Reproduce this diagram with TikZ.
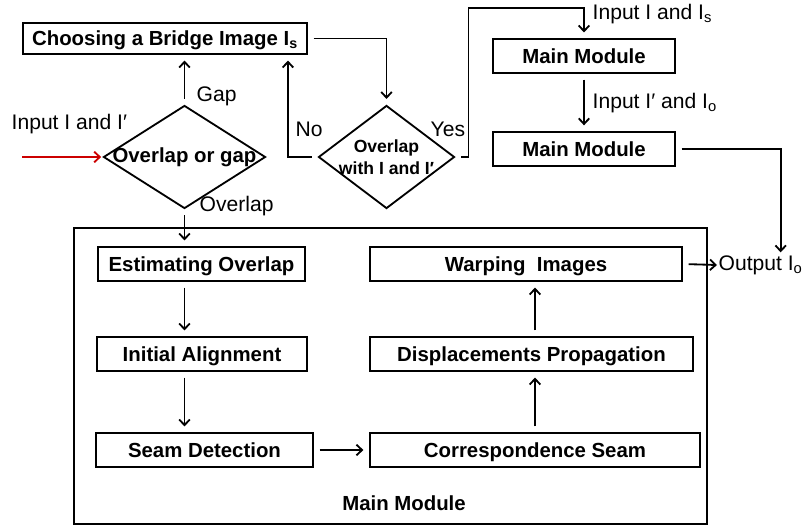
\documentclass[tikz,border=0pt]{standalone}
\usepackage{fontspec}
\setmainfont{Liberation Sans}
\usepackage{tikz}
\usetikzlibrary{shapes.geometric,positioning,arrows.meta,calc}

\begin{document}
\begin{tikzpicture}[x = 0.025cm, y = -0.025cm,
        >= {Straight Barb[length = 4pt, width = 7.5pt]},
        box/.style = {draw, line width = 1.3pt, minimum height = 0.85cm, inner sep = 2pt, text height = 10.5pt, text depth = 0pt, font = \bfseries\fontsize{14.5}{17}\selectfont},
        decision/.style = {draw, diamond, line width = 1.3pt, inner sep = 0pt, minimum height = 2.575cm},
        dtext/.style = {inner sep = 0pt, font = \bfseries\fontsize{14.5}{17}\selectfont},
        txt/.style = {inner sep = 1pt, anchor = west, font = \fontsize{15}{18}\selectfont},
        flow/.style = {line width = 1.3pt, shorten > = 4pt, shorten < = 4pt}]
        \useasboundingbox (0,0) rectangle (804,527);

        % decision part
        \coordinate (in) at (22,157);
        \node [decision, minimum width = 4.05cm] (d1) at (184.5,157) {};
        \node [dtext] (d1txt) at (d1) {Overlap or gap};
        \node [decision, minimum width = 3.4cm] (d2) at (386.5,157) {};
        \node [dtext, align = center, font = \bfseries\fontsize{12.5}{15.6}\selectfont] (d2txt) at (d2) {Overlap\\with I and I′};
        \node [box, minimum width = 7.1cm, minimum height = 0.775cm] (bridge) at (165,38.5) {Choosing a Bridge Image I\textsubscript{s}};
        \node [box, minimum width = 4.55cm] (mm1) at (584,56) {Main Module};
        \node [box, minimum width = 4.55cm] (mm2) [below = 1.425cm of mm1] {Main Module};

        % main module
        \node [draw, line width = 1.3pt, minimum width = 15.825cm, minimum height = 7.4cm] (main) at (390.5,376) {};
        \node [box, minimum width = 5.175cm] (est) at (201.5,264) {Estimating Overlap};
        \node [box, minimum width = 5.25cm] (init) at (202,354) {Initial Alignment};
        \node [box, minimum width = 5.425cm] (seam) at (204.5,450) {Seam Detection};
        \node [box, minimum width = 7.8cm] (warp) at (526,264) {Warping\ \ Images};
        \node [box, minimum width = 8.075cm] (disp) at (531.5,354) {Displacements Propagation};
        \node [box, minimum width = 8.25cm] (corr) at (535,450) {Correspondence Seam};
        \node [dtext] (mainlbl) at (404,503) {Main Module};

        % labels
        \node [txt] (inlbl) at (10,124) {Input I and I′};
        \node [txt] (gaplbl) at (195,96) {Gap};
        \node [txt] (ovlbl) at (198,206) {Overlap};
        \node [txt] (nolbl) at (294,129) {No};
        \node [txt] (yeslbl) at (429,129) {Yes};
        \node [txt] (in1lbl) at (591,14) {Input I and I\textsubscript{s}};
        \node [txt] (in2lbl) at (591,103) {Input I′ and I\textsubscript{o}};
        \node [txt] (out) at (717,265) {Output I\textsubscript{o}};

        \draw [->, flow, red!80!black, shorten < = 0pt, shorten > = 1pt] (in) -- (d1.west);
        \path [->, flow]
            (d1.north) edge (d1.north |- bridge.south)
            (d1.south) edge (d1.south |- est.north)
            (est.south -| d1.south) edge (init.north -| d1.south)
            (init.south -| d1.south) edge (seam.north -| d1.south)
            (seam) edge (corr)
            (corr.north) edge (disp.south -| corr.north)
            (disp.north -| corr.north) edge (warp.south -| corr.north)
            (mm1) edge (mm2);
        \draw [->, flow] (bridge.east) -| (d2.north);
        \draw [->, flow] (d2.west) -| ($(bridge.south east) + (-20,0)$);
        \draw [->, flow] (d2.east) -- ++(13,0) |- ($(mm1.north) + (0,-30)$) -- (mm1.north);
        \draw [->, flow, shorten > = 1pt] (mm2.east) -| ([xshift = 0.5cm]out.north);
        \draw [->, flow, shorten > = 0pt] (warp.east) -- (out.west);
    \end{tikzpicture}
\end{document}
